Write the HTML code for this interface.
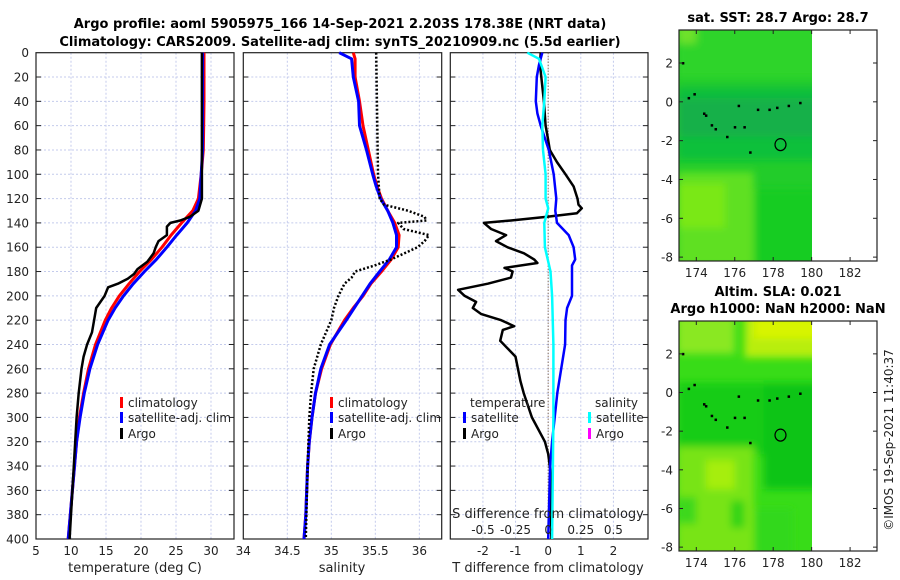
<!DOCTYPE html>
<html><head><meta charset="utf-8"><style>
body{margin:0;background:#fff;}
svg{display:block;font-family:"DejaVu Sans","Liberation Sans",sans-serif;}
</style></head><body>
<svg id="fig" width="900" height="580" viewBox="0 0 900 580" xmlns="http://www.w3.org/2000/svg">
<defs>
<filter id="bl" x="-10%" y="-10%" width="120%" height="120%"><feGaussianBlur stdDeviation="4"/></filter>
<clipPath id="m1c"><rect x="679" y="30" width="133" height="231"/></clipPath>
<clipPath id="m2c"><rect x="679" y="321" width="133" height="230"/></clipPath>
</defs>
<text x="340" y="28" text-anchor="middle" font-size="13" font-weight="bold">Argo profile: aoml 5905975_166 14-Sep-2021 2.203S 178.38E (NRT data)</text>
<text x="340" y="46" text-anchor="middle" font-size="13" font-weight="bold">Climatology: CARS2009. Satellite-adj clim: synTS_20210909.nc (5.5d earlier)</text>
<g id="maps"></g>
<g id="plots"></g>
<text transform="translate(893,440) rotate(-90)" text-anchor="middle" font-size="12" fill="#222">©IMOS 19-Sep-2021 11:40:37</text>
</svg>
<script>
// ---- data ----
const depths = [0,5,20,40,60,80,100,110,120,130,140,150,160,170,180,190,200,210,220,240,260,280,300,320,340,360,380,400];
const tClim = [29.0,29.0,29.0,29.0,28.95,28.9,28.6,28.4,28.2,27.4,25.8,24.3,23.0,21.5,19.8,18.3,16.9,15.8,14.9,13.5,12.5,11.8,11.2,10.8,10.5,10.2,9.9,9.6];
const tSat = [28.8,28.8,28.8,28.8,28.8,28.8,28.6,28.5,28.4,27.8,26.6,25.1,23.7,22.2,20.5,18.9,17.5,16.3,15.3,13.8,12.7,11.9,11.3,10.8,10.5,10.2,9.9,9.6];
const argoTDepth = [0,100,120,130,135,138,140,143,150,155,160,165,172,178,182,186,190,193,200,210,220,230,240,250,260,280,300,320,340,360,380,400];
const argoT = [28.7,28.7,28.7,28.2,27.0,25.6,24.2,23.7,23.7,22.5,22.1,21.8,20.9,19.5,19.0,18.1,16.7,15.3,14.8,13.6,13.3,13.0,12.3,11.8,11.5,11.1,10.8,10.6,10.4,10.2,10.0,9.8];
const sClim = [35.25,35.27,35.27,35.32,35.36,35.42,35.48,35.52,35.57,35.64,35.72,35.77,35.76,35.68,35.57,35.45,35.36,35.25,35.15,34.99,34.89,34.82,34.78,34.75,34.73,34.72,34.71,34.69];
const sSat = [35.09,35.23,35.25,35.31,35.32,35.40,35.47,35.51,35.56,35.64,35.70,35.74,35.74,35.66,35.55,35.44,35.35,35.26,35.17,34.98,34.88,34.82,34.78,34.75,34.73,34.72,34.71,34.69];
const argoSDepth = [0,100,120,125,130,135,138,140,145,150,155,160,170,175,180,185,190,200,210,220,240,260,280,300,340,400];
const argoS = [35.51,35.53,35.55,35.60,35.87,36.06,36.08,35.76,35.82,36.11,36.06,35.98,35.68,35.49,35.27,35.23,35.15,35.08,35.03,35.00,34.88,34.80,34.77,34.75,34.73,34.71];
const dTDepth = [0,10,40,60,70,80,90,100,110,120,125,128,132,135,138,140,145,150,155,160,165,170,173,177,180,185,190,195,200,205,210,215,220,225,228,237,250,270,280,300,320,330,350,380,400];
const dTArgo = [-0.23,-0.25,-0.13,-0.08,-0.01,0.05,0.27,0.53,0.78,0.90,0.93,1.03,0.88,-0.03,-1.14,-1.97,-1.75,-1.29,-1.60,-1.25,-0.74,-0.43,-0.33,-1.34,-1.09,-1.14,-1.85,-2.76,-2.56,-2.21,-2.31,-2.05,-1.44,-1.04,-1.39,-1.47,-1.0,-0.85,-0.75,-0.5,-0.1,0.0,0.1,0.08,0.1];
const dTSatDepth = [0,10,20,40,50,60,80,100,120,130,140,150,160,170,175,190,200,210,220,240,260,280,300,320,340,400];
const dTSat = [-0.18,-0.28,-0.35,-0.38,-0.33,-0.23,0.02,0.17,0.25,0.22,0.27,0.63,0.78,0.83,0.73,0.73,0.73,0.58,0.53,0.52,0.40,0.28,0.20,0.12,0.06,0.0];
const dSSatDepth = [0,5,20,40,60,80,100,120,128,140,160,180,200,240,300,400];
const dSSat = [-0.16,-0.07,-0.02,-0.03,-0.045,-0.04,-0.02,-0.02,0.0,-0.03,-0.025,0.018,0.03,0.04,0.04,0.03];

const NS='http://www.w3.org/2000/svg';
function mk(tag,at,parent){const e=document.createElementNS(NS,tag);for(const k in at)e.setAttribute(k,at[k]);parent.appendChild(e);return e;}
const plots=document.getElementById('plots');
const Y0=52.7,Y1=539;
function yD(d){return Y0+(d/400)*(Y1-Y0);}
const panels=[
 {x0:36,x1:234,v0:5,v1:5+198/7,ticks:[5,10,15,20,25,30],labels:['5','10','15','20','25','30'],name:'temperature-panel'},
 {x0:243.3,x1:441.7,v0:34,v1:36.254,ticks:[34,34.5,35,35.5,36],labels:['34','34.5','35','35.5','36'],name:'salinity-panel'},
 {x0:450.3,x1:648,v0:-3,v1:3.06,ticks:[-2,-1,0,1,2],labels:['-2','-1','0','1','2'],name:'difference-panel'}];
panels.forEach(p=>{p.sx=v=>p.x0+(v-p.v0)/(p.v1-p.v0)*(p.x1-p.x0);});
panels.forEach((p,i)=>{
 const g=mk('g',{},plots);
 
 
 for(let d=20;d<400;d+=20){const l=mk('line',{x1:p.x0,x2:p.x1,y1:yD(d),y2:yD(d),stroke:'#c4cbec','stroke-width':1,'stroke-dasharray':'2,2'},g);
  
  
  mk('line',{x1:p.x0,x2:p.x0+5,y1:yD(d),y2:yD(d),stroke:'#222'},g);
  mk('line',{x1:p.x1-5,x2:p.x1,y1:yD(d),y2:yD(d),stroke:'#222'},g);}
 p.ticks.forEach((t,j)=>{const x=p.sx(t);
  if(t!==p.v0){const l=mk('line',{x1:x,x2:x,y1:Y0,y2:Y1,stroke:'#c4cbec','stroke-width':1,'stroke-dasharray':'2,2'},g);
  
  }
  const tx=mk('text',{x:x,y:555,'text-anchor':'middle','font-size':12,fill:'#222'},g);tx.textContent=p.labels[j];
  
  });
 const r=mk('rect',{x:p.x0,y:Y0,width:p.x1-p.x0,height:Y1-Y0,fill:'none',stroke:'#222','stroke-width':1.2},g);
 
 
});
// y tick labels
for(let d=0;d<=400;d+=20){const t=mk('text',{x:29,y:yD(d)+4.5,'text-anchor':'end','font-size':12,fill:'#222'},plots);t.textContent=d;
 
 }
function line(p,vals,ds,color,w,name,dash){
 const pts=vals.map((v,i)=>p.sx(v).toFixed(1)+','+yD(ds[i]).toFixed(1)).join(' ');
 const a={points:pts,fill:'none',stroke:color,'stroke-width':w,'stroke-linejoin':'round'};
 if(dash)a['stroke-dasharray']=dash;
 const e=mk('polyline',a,plots);
 
 
}
const P1=panels[0],P2=panels[1],P3=panels[2];
line(P1,tClim,depths,'#ff0000',3,'temp-climatology-line');
line(P1,tSat,depths,'#0000ff',3,'temp-satellite-line');
line(P1,argoT,argoTDepth,'#000',2.5,'temp-argo-line');
line(P2,sClim,depths,'#ff0000',3,'sal-climatology-line');
line(P2,sSat,depths,'#0000ff',3,'sal-satellite-line');
line(P2,argoS,argoSDepth,'#000',2.5,'sal-argo-line','2,2');
// zero line panel 3
const zl=mk('line',{x1:P3.sx(0),x2:P3.sx(0),y1:Y0,y2:Y1,stroke:'#6b4a2a','stroke-width':1,'stroke-dasharray':'1,2'},plots);


line(P3,dTArgo,dTDepth,'#000',2.5,'tdiff-argo-line');
line(P3,dTSat,dTSatDepth,'#0000ff',2.5,'tdiff-satellite-line');
line(P3,dSSat.map(v=>v*4),dSSatDepth,'#00ffff',2.5,'sdiff-satellite-line');
// S axis labels
const sTicks=[-0.5,-0.25,0,0.25,0.5];
sTicks.forEach(s=>{const t=mk('text',{x:P3.sx(s*4),y:534,'text-anchor':'middle','font-size':12,fill:'#222'},plots);t.textContent=String(s);
 
 });
function txt(x,y,s,name,anchor,size,extra){const t=mk('text',Object.assign({x:x,y:y,'text-anchor':anchor||'start','font-size':size||12,fill:'#222'},extra||{}),plots);t.textContent=s;
 
 return t;}
txt(548,518,'S difference from climatology','s-axis-title','middle',13);
txt(135,572,'temperature (deg C)','x-axis-title-temperature','middle',13);
txt(342,572,'salinity','x-axis-title-salinity','middle',13);
txt(548,572,'T difference from climatology','x-axis-title-tdiff','middle',13);
// legends
function leg(x,y,col,label,name){
 const b=mk('rect',{x:x,y:y-10,width:3,height:11,fill:col},plots);
 
 
 txt(x+8,y,label,name);
}
leg(120,407,'#ff0000','climatology','legend-climatology');
leg(120,422,'#0000ff','satellite-adj. clim','legend-satellite');
leg(120,438,'#000','Argo','legend-argo');
leg(330,407,'#ff0000','climatology','legend2-climatology');
leg(330,422,'#0000ff','satellite-adj. clim','legend2-satellite');
leg(330,438,'#000','Argo','legend2-argo');
txt(470,407,'temperature','legend3-temperature-header');
leg(463,422,'#0000ff','satellite','legend3-t-satellite');
leg(463,438,'#000','Argo','legend3-t-argo');
txt(595,407,'salinity','legend3-salinity-header');
leg(588,422,'#00ffff','satellite','legend3-s-satellite');
leg(588,438,'#ff00ff','Argo','legend3-s-argo');

// ---- maps ----
const maps=document.getElementById('maps');
const lonTicks=[174,176,178,180,182];
const latTicks=[2,0,-2,-4,-6,-8];
const coastLon=[173.3,173.6,173.9,174.4,174.5,174.8,175.0,175.6,176.0,176.2,176.5,176.8,177.2,177.8,178.2,178.8,179.4];
const coastLat=[2.0,0.2,0.4,-0.6,-0.7,-1.2,-1.4,-1.8,-1.3,-0.2,-1.3,-2.6,-0.4,-0.4,-0.3,-0.2,-0.05];
const floatLon=178.38, floatLat=-2.203;
function mapAxes(top,bot,title,name,blobs,base){
 const x0=679,x1=877,lon0=173.1,lon1=183.4,lat0=-8.2,lat1=3.7;
 const sx=v=>x0+(v-lon0)/(lon1-lon0)*(x1-x0);
 const sy=v=>bot-(v-lat0)/(lat1-lat0)*(bot-top);
 const g=mk('g',{},maps);
 
 
 const cg=mk('g',{'clip-path':'url(#'+(name==='sst-map'?'m1c':'m2c')+')'},g);
 mk('rect',{x:679,y:top,width:133,height:bot-top,fill:base},cg);
 const bg=mk('g',{filter:'url(#bl)'},cg);
 blobs.forEach(b=>mk('rect',{x:sx(b[0]),y:sy(b[3]),width:sx(b[1])-sx(b[0]),height:sy(b[2])-sy(b[3]),fill:b[4]},bg));
 coastLon.forEach((lo,i)=>{const d=mk('rect',{x:sx(lo)-1,y:sy(coastLat[i])-1,width:2.5,height:2.5,fill:'#000'},cg);
  
  });
 const c=mk('ellipse',{cx:sx(floatLon),cy:sy(floatLat),rx:5.5,ry:6,fill:'none',stroke:'#000','stroke-width':1.2},g);
 
 
 lonTicks.forEach(t=>{const x=sx(t);mk('line',{x1:x,x2:x,y1:bot,y2:bot-4,stroke:'#222'},g);mk('line',{x1:x,x2:x,y1:top,y2:top+4,stroke:'#222'},g);
  const l=mk('text',{x:x,y:bot+16,'text-anchor':'middle','font-size':12,fill:'#222'},g);l.textContent=t;
  
  });
 latTicks.forEach(t=>{const y=sy(t);mk('line',{x1:x0,x2:x0+4,y1:y,y2:y,stroke:'#222'},g);mk('line',{x1:x1-4,x2:x1,y1:y,y2:y,stroke:'#222'},g);
  const l=mk('text',{x:673,y:y+4.5,'text-anchor':'end','font-size':12,fill:'#222'},g);l.textContent=t;
  
  });
 mk('rect',{x:x0,y:top,width:x1-x0,height:bot-top,fill:'none',stroke:'#222','stroke-width':1.2},g);
 title.forEach((s,i)=>{const t=mk('text',{x:778,y:top-8-(title.length-1-i)*17,'text-anchor':'middle','font-size':13,'font-weight':'bold'},g);t.textContent=s;
  
  });
}
mapAxes(30,261,['sat. SST: 28.7 Argo: 28.7'],'sst-map',[
 [173,181,1.2,4,'#2ed42a'],[173,181,-3.0,0.8,'#10c03a'],[173,181,-1.8,0.2,'#12b04a'],
 [173,177,-8.5,-3.6,'#5ee022'],[173,175.5,-6.5,-4.2,'#7ae818'],[177,181,-8.5,-4.5,'#14cc20'],[173,174,3,4,'#6ee22a']],'#22cc2a');
mapAxes(321,551,['Altim. SLA: 0.021','Argo h1000: NaN h2000: NaN'],'sla-map',[
 [176.5,181,1.8,4,'#b8ee10'],[173,176,2,4,'#8ae820'],[177,180.5,2.8,4,'#d8f400'],
 [173,181,-3.2,0.5,'#14cc14'],[177.5,181,-5,0.5,'#10c418'],
 [173,177,-8.5,-2.8,'#78e414'],[174.5,176,-5,-3.5,'#a6ee10'],[173,174,-6.8,-5.4,'#3cd81a'],[175.8,176.5,-7,-5.6,'#30d418'],[177,179,-8.5,-6,'#30d81a']],'#38dc18');
</script>
</body></html>
